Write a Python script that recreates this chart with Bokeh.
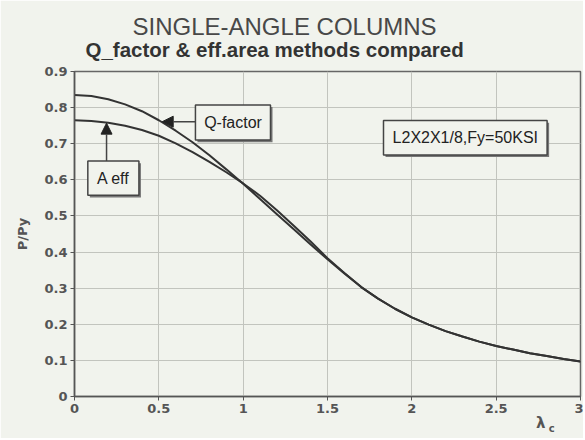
from bokeh.plotting import figure
from bokeh.models import Label, Arrow, NormalHead, FixedTicker, Range1d, Title, LinearAxis
from bokeh.embed import file_html
from bokeh.resources import INLINE

# ---- data ----
lam = [0.0, 0.1, 0.2, 0.3, 0.4, 0.5, 0.6, 0.7, 0.8, 0.9, 1.0,
       1.1, 1.2, 1.3, 1.4, 1.5, 1.6, 1.7, 1.8, 1.9, 2.0,
       2.1, 2.2, 2.3, 2.4, 2.5, 2.6, 2.7, 2.8, 2.9, 3.0]
q_factor = [0.835, 0.832, 0.823, 0.809, 0.790, 0.765, 0.736, 0.704, 0.668, 0.629, 0.589,
            0.547, 0.505, 0.463, 0.421, 0.380, 0.341, 0.303, 0.271, 0.243, 0.219,
            0.199, 0.181, 0.166, 0.152, 0.140, 0.130, 0.120, 0.112, 0.104, 0.097]
a_eff = [0.765, 0.763, 0.758, 0.750, 0.738, 0.722, 0.701, 0.677, 0.650, 0.621, 0.590,
         0.556, 0.516, 0.473, 0.429, 0.383, 0.342, 0.303, 0.271, 0.243, 0.219,
         0.199, 0.181, 0.166, 0.152, 0.140, 0.130, 0.120, 0.112, 0.104, 0.097]

x_ticks = [0, 0.5, 1, 1.5, 2, 2.5, 3]
x_tick_labels = ["0", "0.5", "1", "1.5", "2", "2.5", "3"]
y_ticks = [0, 0.1, 0.2, 0.3, 0.4, 0.5, 0.6, 0.7, 0.8, 0.9]
y_tick_labels = ["0", "0.1", "0.2", "0.3", "0.4", "0.5", "0.6", "0.7", "0.8", "0.9"]

title_text = "SINGLE-ANGLE COLUMNS"
subtitle_text = "Q_factor & eff.area methods compared"
y_label = "P/Py"
x_label_main = "λ"
x_label_sub = "c"
note_text = "L2X2X1/8,Fy=50KSI"

BG = "#f1f3ed"
INK = "#333333"

p = figure(width=583, height=438, x_range=Range1d(0, 3), y_range=Range1d(0, 0.9),
           output_backend="svg", toolbar_location=None, title=None,
           min_border_left=74, min_border_right=3, min_border_top=71, min_border_bottom=42)
p.background_fill_color = BG
p.border_fill_color = BG
p.outline_line_color = "#666666"
p.outline_line_width = 1.5

# axes
for ax, ticks, labels in ((p.xaxis[0], x_ticks, x_tick_labels), (p.yaxis[0], y_ticks, y_tick_labels)):
    ax.ticker = FixedTicker(ticks=ticks)
    ax.major_label_overrides = {t: l for t, l in zip(ticks, labels)}
    ax.major_tick_out = 4
    ax.major_tick_in = 0
    ax.minor_tick_line_color = None
    ax.axis_line_color = "#555555"
    ax.axis_line_width = 1.5
    ax.major_tick_line_color = "#555555"
    ax.major_label_text_font = "DejaVu Sans"
    ax.major_label_text_font_style = "bold"
    ax.major_label_text_font_size = "13px"
    ax.major_label_text_color = "#555555"
    ax.major_label_standoff = 3

p.yaxis.axis_label = y_label
p.yaxis.axis_label_text_font = "DejaVu Sans"
p.yaxis.axis_label_text_font_style = "bold"
p.yaxis.axis_label_text_font_size = "13px"
p.yaxis.axis_label_text_color = "#555555"
p.yaxis.axis_label_standoff = 11

# lambda_c label built from two extra label-only axes below the main one
lam_pos = 2.765
sub_pos = 2.83
for pos, txt, size, standoff in ((lam_pos, x_label_main, "15px", -2), (sub_pos, x_label_sub, "10px", -12)):
    ax = LinearAxis(ticker=FixedTicker(ticks=[pos]), major_label_overrides={pos: txt},
                    axis_line_color=None, major_tick_line_color=None,
                    minor_tick_line_color=None, major_tick_out=0, major_tick_in=0,
                    major_label_standoff=standoff, major_label_text_font="DejaVu Sans",
                    major_label_text_font_style="bold", major_label_text_font_size=size,
                    major_label_text_color="#555555")
    p.add_layout(ax, "below")

p.xgrid.ticker = FixedTicker(ticks=x_ticks)
p.ygrid.ticker = FixedTicker(ticks=y_ticks)
for g in (p.xgrid[0], p.ygrid[0]):
    g.grid_line_color = "#c2c4be"
    g.grid_line_width = 1

# titles (subtitle first -> nearest the frame)
p.add_layout(Title(text=subtitle_text, align="left", offset=11, standoff=21,
                   text_font="Liberation Sans", text_font_style="bold",
                   text_font_size="20.5px", text_color="#333333"), "above")
p.add_layout(Title(text=title_text, align="left", offset=58, standoff=-29,
                   text_font="Liberation Sans", text_font_style="normal",
                   text_font_size="24px", text_color="#484848"), "above")

# curves
p.line(lam, q_factor, line_color=INK, line_width=2)
p.line(lam, a_eff, line_color=INK, line_width=2)

# callout boxes (annotations)
def box(x0, x1, y0, y1):
    p.quad(left=x0 + 0.012, right=x1 + 0.012, bottom=y0 - 0.006, top=y1 - 0.006,
           fill_color="#777777", line_color=None)
    p.quad(left=x0, right=x1, bottom=y0, top=y1, fill_color=BG,
           line_color="#444444", line_width=1.5)

box(0.717, 1.162, 0.710, 0.8075)
box(0.079, 0.382, 0.557, 0.652)
box(1.832, 2.802, 0.669, 0.764)

def lbl(x, y, text, size="16px", font="Liberation Sans", style="normal", align="center",
        baseline="middle", color="#222222"):
    p.add_layout(Label(x=x, y=y, text=text, text_align=align, text_baseline=baseline,
                       text_font=font, text_font_size=size, text_font_style=style,
                       text_color=color))

lbl(0.94, 0.759, "Q-factor")
lbl(0.230, 0.604, "A eff")
lbl(2.317, 0.716, note_text)

p.add_layout(Arrow(end=NormalHead(size=11, fill_color="#222222", line_color="#222222"),
                   x_start=0.717, y_start=0.761, x_end=0.52, y_end=0.761,
                   line_color="#444444", line_width=1.5))
p.add_layout(Arrow(end=NormalHead(size=11, fill_color="#222222", line_color="#222222"),
                   x_start=0.19, y_start=0.652, x_end=0.19, y_end=0.757,
                   line_color="#444444", line_width=1.5))

open("out.html", "w").write(file_html(p, INLINE))
